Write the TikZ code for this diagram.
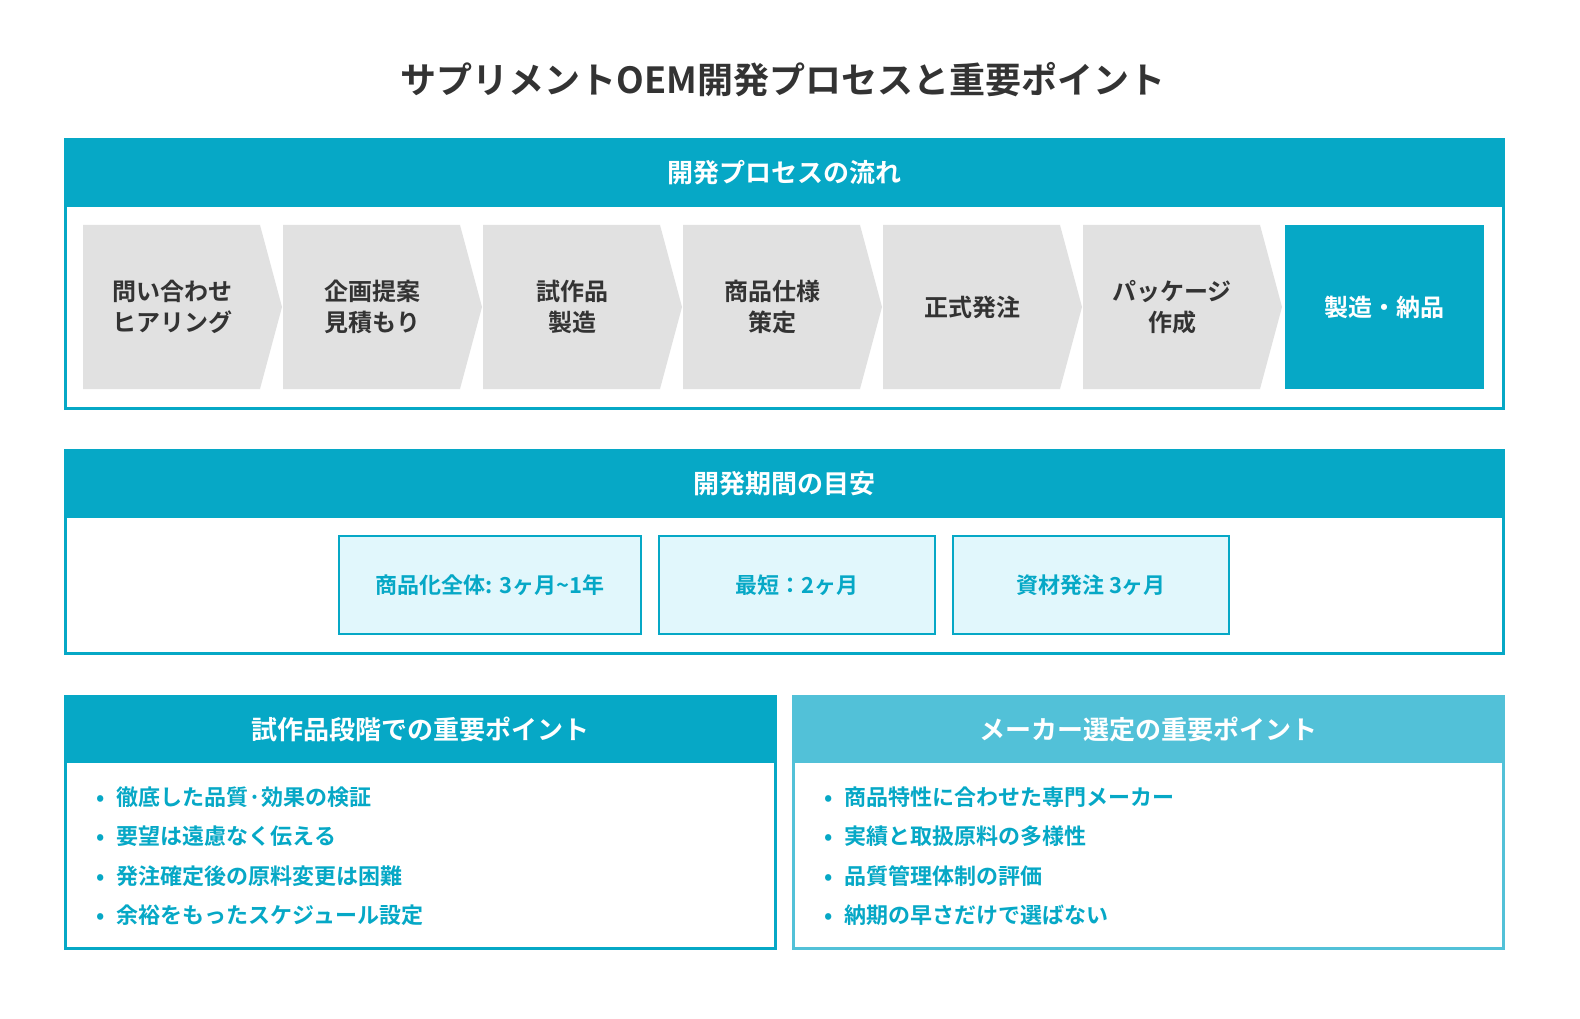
\documentclass[tikz,border=0pt]{standalone}
\usepackage{fontspec}
\setmainfont{Noto Sans CJK JP}[BoldFont={Noto Sans CJK JP Bold}]
\definecolor{Teal}{HTML}{06A8C6}
\definecolor{LightTeal}{HTML}{52C1D8}
\definecolor{Pale}{HTML}{E1F7FC}
\definecolor{Chev}{HTML}{E1E1E1}
\definecolor{Ink}{HTML}{333333}
\tikzset{
  frame/.style={draw=#1, line width=3pt, fill=white},
  headbar/.style={fill=#1},
  headtext/.style={text=white, font=\fontsize{26}{30}\selectfont\bfseries},
  steptext/.style={text=Ink, font=\fontsize{24}{31}\selectfont\bfseries, align=center},
  periodbox/.style={draw=Teal, line width=1.5pt, fill=Pale, text=Teal,
    font=\fontsize{22}{26}\selectfont\bfseries},
  pointtext/.style={text=Teal, font=\fontsize{22}{26}\selectfont\bfseries, anchor=west}
}
\begin{document}
\begin{tikzpicture}[x=1pt, y=-1pt]
  \useasboundingbox (0,0) rectangle (1580,1019);
  \node [text=Ink, font=\fontsize{36}{40}\selectfont\bfseries] (title) at (783,80)
    {サプリメントOEM開発プロセスと重要ポイント};
  % process flow
  \draw [frame=Teal] (65,140) rectangle (1503,408);
  \fill [headbar=Teal] (65,140) rectangle (1503,207);
  \node [headtext] (flowhead) at (784,173) {開発プロセスの流れ};
  \foreach \i/\txt in {0/{問い合わせ\\ヒアリング},1/{企画提案\\見積もり},2/{試作品\\製造},
      3/{商品仕様\\策定},4/{正式発注},5/{パッケージ\\作成}}{
    \pgfmathsetmacro{\xa}{83+200*\i}
    \fill [Chev] (\xa,225) -- (\xa+177,225) -- (\xa+199,307) -- (\xa+177,389) -- (\xa,389) -- cycle;
    \node [steptext] (step\i) at (\xa+89,307) {\txt};
  }
  \fill [Teal] (1285,225) rectangle (1484,389);
  \node [steptext, text=white] (step6) at (1384,307) {製造・納品};
  % period
  \draw [frame=Teal] (65,450) rectangle (1503,653);
  \fill [headbar=Teal] (65,450) rectangle (1503,518);
  \node [headtext] (periodhead) at (784,484) {開発期間の目安};
  \node [periodbox, minimum width=302pt, minimum height=98pt] (whole) at (490,585) {商品化全体: 3ヶ月\textasciitilde 1年};
  \node [periodbox, minimum width=276pt, minimum height=98pt] (shortest) at (797,585) {最短：2ヶ月};
  \node [periodbox, minimum width=276pt, minimum height=98pt] (material) at (1091,585) {資材発注 3ヶ月};
  % key points
  \draw [frame=Teal] (65,696) rectangle (775,948);
  \fill [headbar=Teal] (65,696) rectangle (775,763);
  \node [headtext] (protohead) at (420,729) {試作品段階での重要ポイント};
  \draw [frame=LightTeal] (793,696) rectangle (1503,948);
  \fill [headbar=LightTeal] (793,696) rectangle (1503,763);
  \node [headtext] (makerhead) at (1148,729) {メーカー選定の重要ポイント};
  \foreach \j/\txt in {0/徹底した品質·効果の検証,1/要望は遠慮なく伝える,2/発注確定後の原料変更は困難,3/余裕をもったスケジュール設定}{
    \node [pointtext] (proto\j) at (93,797+39.5*\j) {•\hspace{12pt}\txt};
  }
  \foreach \j/\txt in {0/商品特性に合わせた専門メーカー,1/実績と取扱原料の多様性,2/品質管理体制の評価,3/納期の早さだけで選ばない}{
    \node [pointtext] (maker\j) at (821,797+39.5*\j) {•\hspace{12pt}\txt};
  }
\end{tikzpicture}
\end{document}
